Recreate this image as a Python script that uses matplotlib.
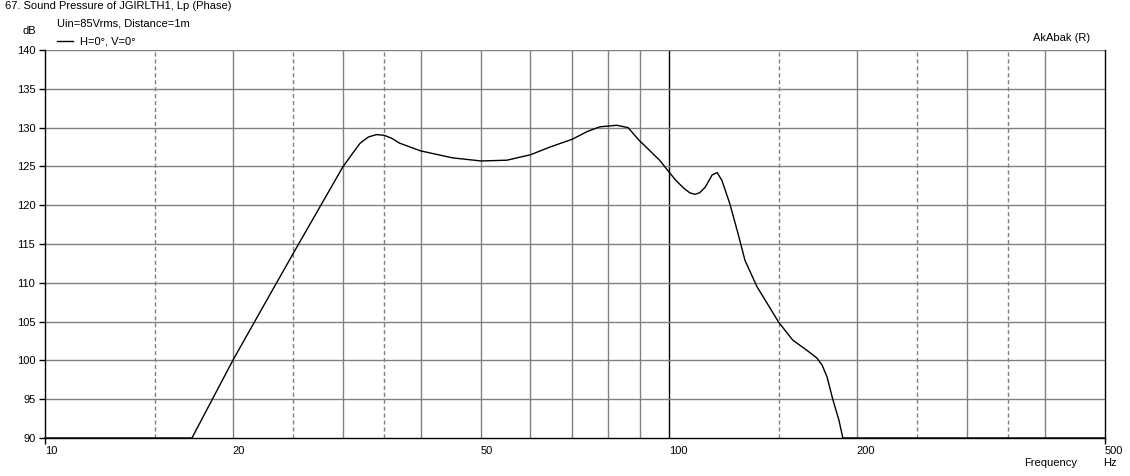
import matplotlib.pyplot as plt
import numpy as np

# values
freq = [10, 17.2, 20, 22.5, 25, 27.5, 30, 31, 32, 33, 34, 35, 36, 37, 40, 45, 50, 55,
        60, 64.5, 70, 74, 77.5, 82.5, 86, 89.5, 93, 96.6, 100, 102.6, 105.6, 108, 110,
        112, 114.3, 117.3, 119.5, 121.6, 125.2, 129, 132.4, 138.4, 143.6, 150, 158,
        166.4, 172.7, 176, 179.2, 183.2, 187.3, 190, 500]
spl = [90, 90, 100, 107.3, 113.8, 119.6, 124.9, 126.5, 128.0, 128.8, 129.1, 129.0,
       128.6, 128.0, 127.0, 126.1, 125.7, 125.8, 126.5, 127.5, 128.5, 129.5, 130.1,
       130.3, 130.0, 128.4, 127.1, 125.8, 124.3, 123.2, 122.2, 121.6, 121.4, 121.6,
       122.3, 123.9, 124.2, 123.2, 120.2, 116.4, 112.9, 109.5, 107.4, 104.9, 102.6,
       101.3, 100.3, 99.4, 97.9, 94.9, 92.3, 90, 90]

solid_grid = [20, 30, 40, 50, 60, 70, 80, 90, 200, 300, 400]
dashed_grid = [15, 25, 35, 150, 250, 350]
xlabels = [10, 20, 50, 100, 200, 500]
ylabels = [90, 95, 100, 105, 110, 115, 120, 125, 130, 135, 140]

plt.rcParams['font.family'] = ['Liberation Sans', 'DejaVu Sans']
fs = 8

fig = plt.figure(figsize=(11.3, 4.76), dpi=100)
ax = fig.add_axes([45 / 1130, 1 - 438 / 476, 1060 / 1130, 388 / 476])
ax.set_xscale('log')
ax.set_xlim(10, 500)
ax.set_ylim(90, 140)

grey = '#808080'
for f in solid_grid:
    ax.axvline(f, color=grey, lw=1, zorder=1)
for f in dashed_grid:
    ax.axvline(f, color=grey, lw=1, ls=(0, (3, 2)), zorder=1)
ax.axvline(100, color='black', lw=1, zorder=1)
for v in ylabels[1:]:
    ax.axhline(v, color=grey, lw=1, zorder=1)

ax.plot(freq, spl, color='black', lw=1, zorder=3, clip_on=False)

for s in ['left', 'bottom', 'right']:
    ax.spines[s].set_color('black')
    ax.spines[s].set_linewidth(1)
ax.spines['top'].set_visible(False)

ax.set_yticks(ylabels)
ax.set_yticklabels([str(v) for v in ylabels], fontsize=fs)
ax.tick_params(axis='y', length=4, width=1, pad=3)

ax.xaxis.set_minor_locator(plt.NullLocator())
ax.set_xticks([10, 500])
ax.set_xticklabels(['', ''])
ax.tick_params(axis='x', length=4, width=1)
for f in xlabels:
    ax.text(f, -0.02, str(f), transform=ax.get_xaxis_transform(),
            ha='left', va='top', fontsize=fs)

fig.text(5 / 1130, 1 - 6 / 476, '67. Sound Pressure of JGIRLTH1, Lp (Phase)',
         ha='left', va='center', fontsize=fs)
fig.text(57 / 1130, 1 - 23 / 476, 'Uin=85Vrms, Distance=1m',
         ha='left', va='center', fontsize=fs)
fig.add_artist(plt.Line2D([57 / 1130, 73 / 1130], [1 - 41 / 476, 1 - 41 / 476],
                          color='black', lw=1))
fig.text(80 / 1130, 1 - 41 / 476, 'H=0°, V=0°', ha='left', va='center', fontsize=fs)
fig.text(36 / 1130, 1 - 31 / 476, 'dB', ha='right', va='center', fontsize=fs)
fig.text(1090 / 1130, 1 - 38 / 476, 'AkAbak (R)', ha='right', va='center', fontsize=fs)
fig.text(1077 / 1130, 1 - 463 / 476, 'Frequency', ha='right', va='center', fontsize=fs)
fig.text(1103 / 1130, 1 - 463 / 476, 'Hz', ha='left', va='center', fontsize=fs)

fig.savefig('out.png', dpi=100, facecolor='white')
